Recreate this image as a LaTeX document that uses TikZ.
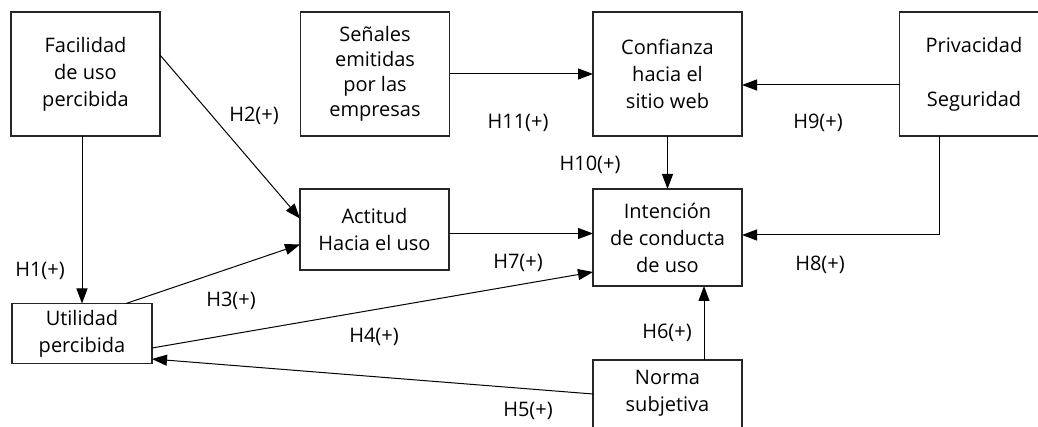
\documentclass[tikz,border=0pt]{standalone}
\usepackage{fontspec}
\setmainfont{Open Sans}
\usetikzlibrary{positioning,calc,arrows.meta}

\begin{document}
\begin{tikzpicture}[x=1pt,y=-1pt,
				block/.style={draw=black!85,line width=1.1pt,rectangle,outer sep=0pt,align=center,
					minimum width=149pt,font=\fontsize{20}{27}\selectfont},
				hyp/.style={inner sep=0pt,font=\fontsize{20}{24}\selectfont},
				link/.style={line width=1pt,-{Triangle[length=15pt,width=11pt]}}]
				\useasboundingbox (0,0) rectangle (1038,427);
				\clip (0,0) rectangle (1038,427);
				\node[block,minimum height=124pt]                   (FAC)   at (85.5,74)   {Facilidad\\de uso\\percibida};
				\node[block,minimum height=124pt,
					font=\fontsize{20}{25}\selectfont]                (SEN)   at (375,74)    {Se\~nales\\emitidas\\por las\\empresas};
				\node[block,minimum height=124pt]                   (CONF)  at (667.5,74)  {Confianza\\hacia el\\sitio web};
				\node[block,minimum height=124pt]                   (PRIV)  at (974,74)    {Privacidad\\[27pt]Seguridad};
				\node[block,minimum height=81pt]                    (ACT)   at (374.5,229.5) {Actitud\\Hacia el uso};
				\node[block,minimum height=97pt]                    (INT)   at (667.5,237.5) {Intenci\'on\\de conducta\\de uso};
				\node[block,minimum height=60pt,minimum width=140pt] (UTIL)  at (82,333.5)  {Utilidad\\percibida};
				\node[block,minimum height=80pt,text depth=18pt]    (NORMA) at (667.5,400) {Norma\\subjetiva};

				\node[hyp] (H1)  at (40,271)  {H1(+)};
				\node[hyp] (H2)  at (254,116) {H2(+)};
				\node[hyp] (H3)  at (231,301) {H3(+)};
				\node[hyp] (H4)  at (374,337) {H4(+)};
				\node[hyp] (H5)  at (528,411) {H5(+)};
				\node[hyp] (H6)  at (667,333) {H6(+)};
				\node[hyp] (H7)  at (518,263) {H7(+)};
				\node[hyp] (H8)  at (820,265) {H8(+)};
				\node[hyp] (H9)  at (818,123) {H9(+)};
				\node[hyp] (H10) at (590,165) {H10(+)};
				\node[hyp] (H11) at (518,123) {H11(+)};

				\draw[link] (FAC.south -| UTIL.north) -- (UTIL.north);
				\draw[link] ([yshift=19pt]FAC.east) -- ([yshift=11pt]ACT.west);
				\draw[link] ([xshift=44pt]UTIL.north) -- ([yshift=-15pt]ACT.west);
				\draw[link] ([yshift=-14.5pt]UTIL.east) -- ([yshift=-34.5pt]INT.west);
				\draw[link] ([yshift=-4pt]ACT.east) -- ([yshift=-4pt]ACT.east -| INT.west);
				\draw[link] ([yshift=6pt]NORMA.west) -- ([yshift=-25.5pt]UTIL.east);
				\draw[link] ([xshift=36.5pt]NORMA.north) -- ([xshift=36.5pt]INT.south);
				\draw[link] ([xshift=-35pt]PRIV.south) |- ([yshift=2.5pt]INT.east);
				\draw[link] ([yshift=-11pt]PRIV.west) -- ([yshift=-11pt]PRIV.west -| CONF.east);
				\draw[link] (CONF.south) -- (INT.north);
				\draw[link] (SEN.east) -- (CONF.west);
			\end{tikzpicture}
\end{document}
